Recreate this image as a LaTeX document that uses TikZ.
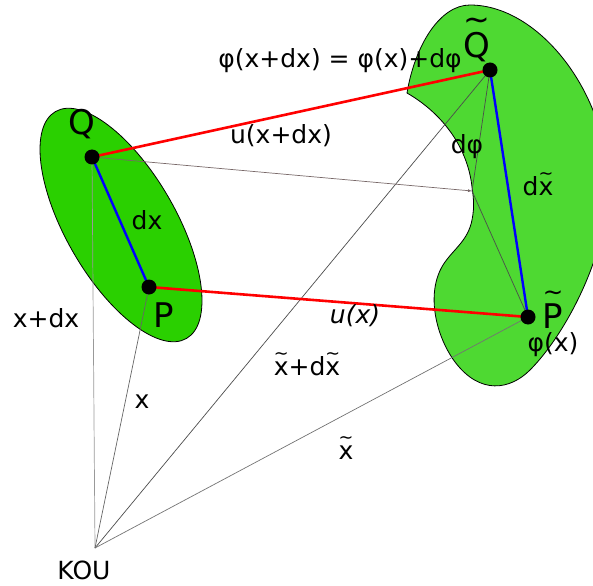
\documentclass[tikz,border=0pt]{standalone}
\usepackage{fontspec}
\setmainfont{DejaVu Sans}
\usepackage{graphicx}
\usepackage{xcolor}
\definecolor{greenleft}{RGB}{42,208,0}
\definecolor{greenright}{RGB}{78,217,50}
\definecolor{brgray}{RGB}{120,104,104}
\usepackage{tikz}
\usetikzlibrary{arrows.meta}
\newlength\wtlen
\newcommand{\wt}[1]{\settowidth{\wtlen}{#1}\leavevmode\vbox{\offinterlineskip
  \halign{\hfil##\hfil\cr\resizebox{\wtlen}{!}{\textasciitilde}\cr
  \noalign{\kern 0.08em}#1\cr}}}
\tikzset{
  body_left/.style={draw=black,fill=greenleft,line width=0.8pt},
  body_right/.style={draw=black,fill=greenright,line width=0.8pt},
  vec_red/.style={draw=red,line width=2.6pt},
  vec_blue/.style={draw=blue,line width=2.4pt},
  ray/.style={line width=0.7pt},
  dot/.style={fill=black},
  lbl/.style={inner sep=0pt,font=\fontsize{25}{30}\selectfont},
  ptlbl/.style={inner sep=0pt,anchor=base,font=\fontsize{34}{40}\selectfont},
}

\begin{document}
\begin{tikzpicture}[x=1pt,y=-1pt]
  \useasboundingbox (0,0) rectangle (593,585);

  % points
  \coordinate (O)  at (95,548);
  \coordinate (Q)  at (92,157);
  \coordinate (P)  at (149,287);
  \coordinate (Qt) at (490,70);
  \coordinate (Pt) at (528,317);
  \coordinate (M)  at (472,191);

  % bodies
  \draw[body_left,rotate around={-60:(121,225)}]
    (121,225) ellipse [x radius=131pt,y radius=55pt];
  \begin{scope}
    \clip (0,0) rectangle (593,585);
    \draw[body_right] (407,93)
      .. controls (415,45) and (440,5) .. (470,5)
      .. controls (540,5) and (608,95) .. (608,185)
      .. controls (608,255) and (565,335) .. (530,370)
      .. controls (510,390) and (480,395) .. (455,362)
      .. controls (435,335) and (425,290) .. (445,262)
      .. controls (455,248) and (468,240) .. (472,220)
      .. controls (475,205) and (473,195) .. (472,187)
      .. controls (468,150) and (445,115) .. (407,93) -- cycle;
  \end{scope}

  % position vectors
  \draw[ray,black!40] (O) -- (Q);
  \draw[ray,black!60] (O) -- (P);
  \draw[ray,black!70] (O) -- (Qt);
  \draw[ray,black!55] (O) -- (Pt);
  \draw[ray,brgray,-{Latex[length=4pt,width=3pt]}] (Q) -- (M);
  \draw[ray,black!70] (M) -- (Qt);
  \draw[ray,black!70] (M) -- (Pt);

  % displacements
  \draw[vec_red] (Q) -- (Qt);
  \draw[vec_red] (P) -- (Pt);
  \draw[vec_blue] (Q) -- (P);
  \draw[vec_blue] (Qt) -- (Pt);

  \foreach \p in {Q,P,Qt,Pt}
    \fill[dot] (\p) circle [radius=7.5pt];

  % labels
  \node (lQ)   [ptlbl] at (82,135)  {Q};
  \node (lP)   [ptlbl] at (164,327) {P};
  \node (lQt)  [ptlbl] at (477,58)  {\wt{Q}};
  \node (lPt)  [ptlbl] at (553,328) {\wt{P}};
  \node (leq)  [lbl] at (340,61)  {φ(x+dx) = φ(x)+dφ};
  \node (luxd) [lbl] at (281,136) {u(x+dx)};
  \node (ldphi)[lbl] at (467,147) {dφ};
  \node (ldx)  [lbl] at (147,220) {dx};
  \node (ldxt) [lbl] at (538,184) {d\wt{x}};
  \node (lxdx) [lbl] at (46,318)  {x+dx};
  \node (lux)  [lbl] at (355,316) {\itshape u(x)};
  \node (lphi) [lbl] at (553,345) {φ(x)};
  \node (lxtd) [lbl] at (307,364) {\wt{x}+d\wt{x}};
  \node (lx)   [lbl] at (142,402) {x};
  \node (lxt)  [lbl] at (346,448) {\wt{x}};
  \node (lO)   [lbl] at (84,570)  {KOU};
\end{tikzpicture}
\end{document}
